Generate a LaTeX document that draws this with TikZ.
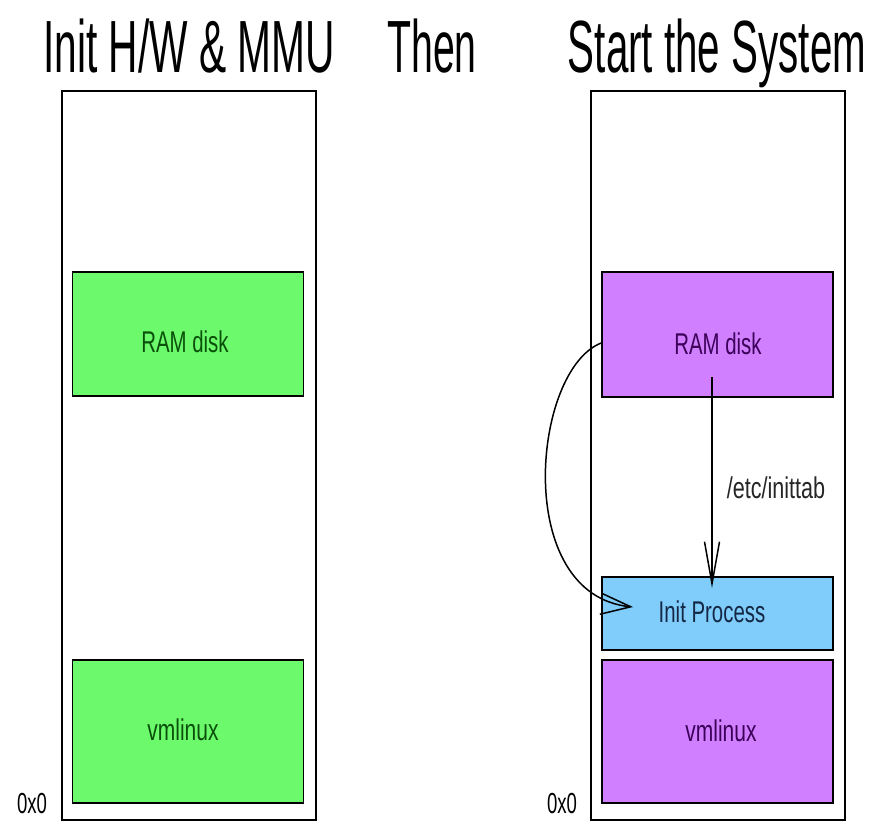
\documentclass[tikz,border=0pt]{standalone}
\usepackage{fontspec}
\setmainfont{Liberation Sans}
\usetikzlibrary{arrows.meta}
\definecolor{memgreen}{RGB}{108,250,108}
\definecolor{mempurple}{RGB}{208,128,255}
\definecolor{memblue}{RGB}{128,204,250}
\definecolor{txtgreen}{RGB}{10,80,10}
\definecolor{txtpurple}{RGB}{60,0,90}
\definecolor{txtblue}{RGB}{20,40,70}
\newcommand{\mysqz}[2]{\scalebox{#1}[1]{#2}}
\begin{document}
\begin{tikzpicture}[x=1pt,y=-1pt,
  memcol/.style={draw=black, line width=2pt, fill=white, inner sep=0pt, minimum width=254pt, minimum height=729pt},
  region/.style={draw=black, line width=1.6pt, inner sep=0pt, minimum width=231pt},
  boxtext/.style={font=\fontsize{30}{32}\selectfont, inner sep=0pt, anchor=base},
  titletext/.style={font=\fontsize{74}{80}\selectfont, inner sep=0pt, anchor=base},
  addrtext/.style={font=\fontsize{29}{30}\selectfont, inner sep=0pt, anchor=base},
  flow/.style={draw=black, line width=1.5pt}
]
\useasboundingbox (0,0) rectangle (875,824);

% titles
\node[titletext] (t1) at (189,73) {\mysqz{0.55}{Init H/W \& MMU}};
\node[titletext] (t2) at (432,73) {\mysqz{0.53}{Then}};
\node[titletext] (t3) at (717,73) {\mysqz{0.545}{Start the System}};

% memory columns
\node[memcol] (colL) at (189,455.5) {};
\node[memcol] (colR) at (718,455.5) {};

% left regions
\node[region, fill=memgreen, minimum height=124pt] (rdL) at (188,334) {};
\node[region, fill=memgreen, minimum height=143pt] (vmL) at (188,731.5) {};
\node[boxtext, text=txtgreen] (rdLt) at (185,352) {\mysqz{0.68}{RAM disk}};
\node[boxtext, text=txtgreen] (vmLt) at (183,740) {\mysqz{0.70}{vmlinux}};

% right regions
\node[region, fill=mempurple, minimum height=125pt] (rdR) at (717.5,334.5) {};
\node[region, fill=memblue, minimum height=73pt] (ipR) at (717.5,613.5) {};
\node[region, fill=mempurple, minimum height=143pt] (vmR) at (717.5,731.5) {};
\node[boxtext, text=txtpurple] (rdRt) at (718,354) {\mysqz{0.68}{RAM disk}};
\node[boxtext, text=txtblue] (ipRt) at (712,622) {\mysqz{0.68}{Init Process}};
\node[boxtext, text=txtpurple] (vmRt) at (721,741) {\mysqz{0.70}{vmlinux}};

% addresses
\node[addrtext] (a1) at (32,813) {\mysqz{0.64}{0x0}};
\node[addrtext] (a2) at (562,813) {\mysqz{0.64}{0x0}};

% connectors
\coordinate (srcA) at (712,377);
\coordinate (dstA) at (712,588);
\draw[flow, -{Straight Barb[length=42pt,width=15pt]}] (srcA) -- (dstA);
\node[boxtext, text=black!85] (lab) at (776,498) {\mysqz{0.72}{/etc/inittab}};

\coordinate (dstB) at (633,607);
\draw[flow, -{Straight Barb[length=30pt,width=21pt]}] ([yshift=-8.5pt]rdR.west) .. controls (532,370) and (512,595) .. (dstB);
\end{tikzpicture}
\end{document}
